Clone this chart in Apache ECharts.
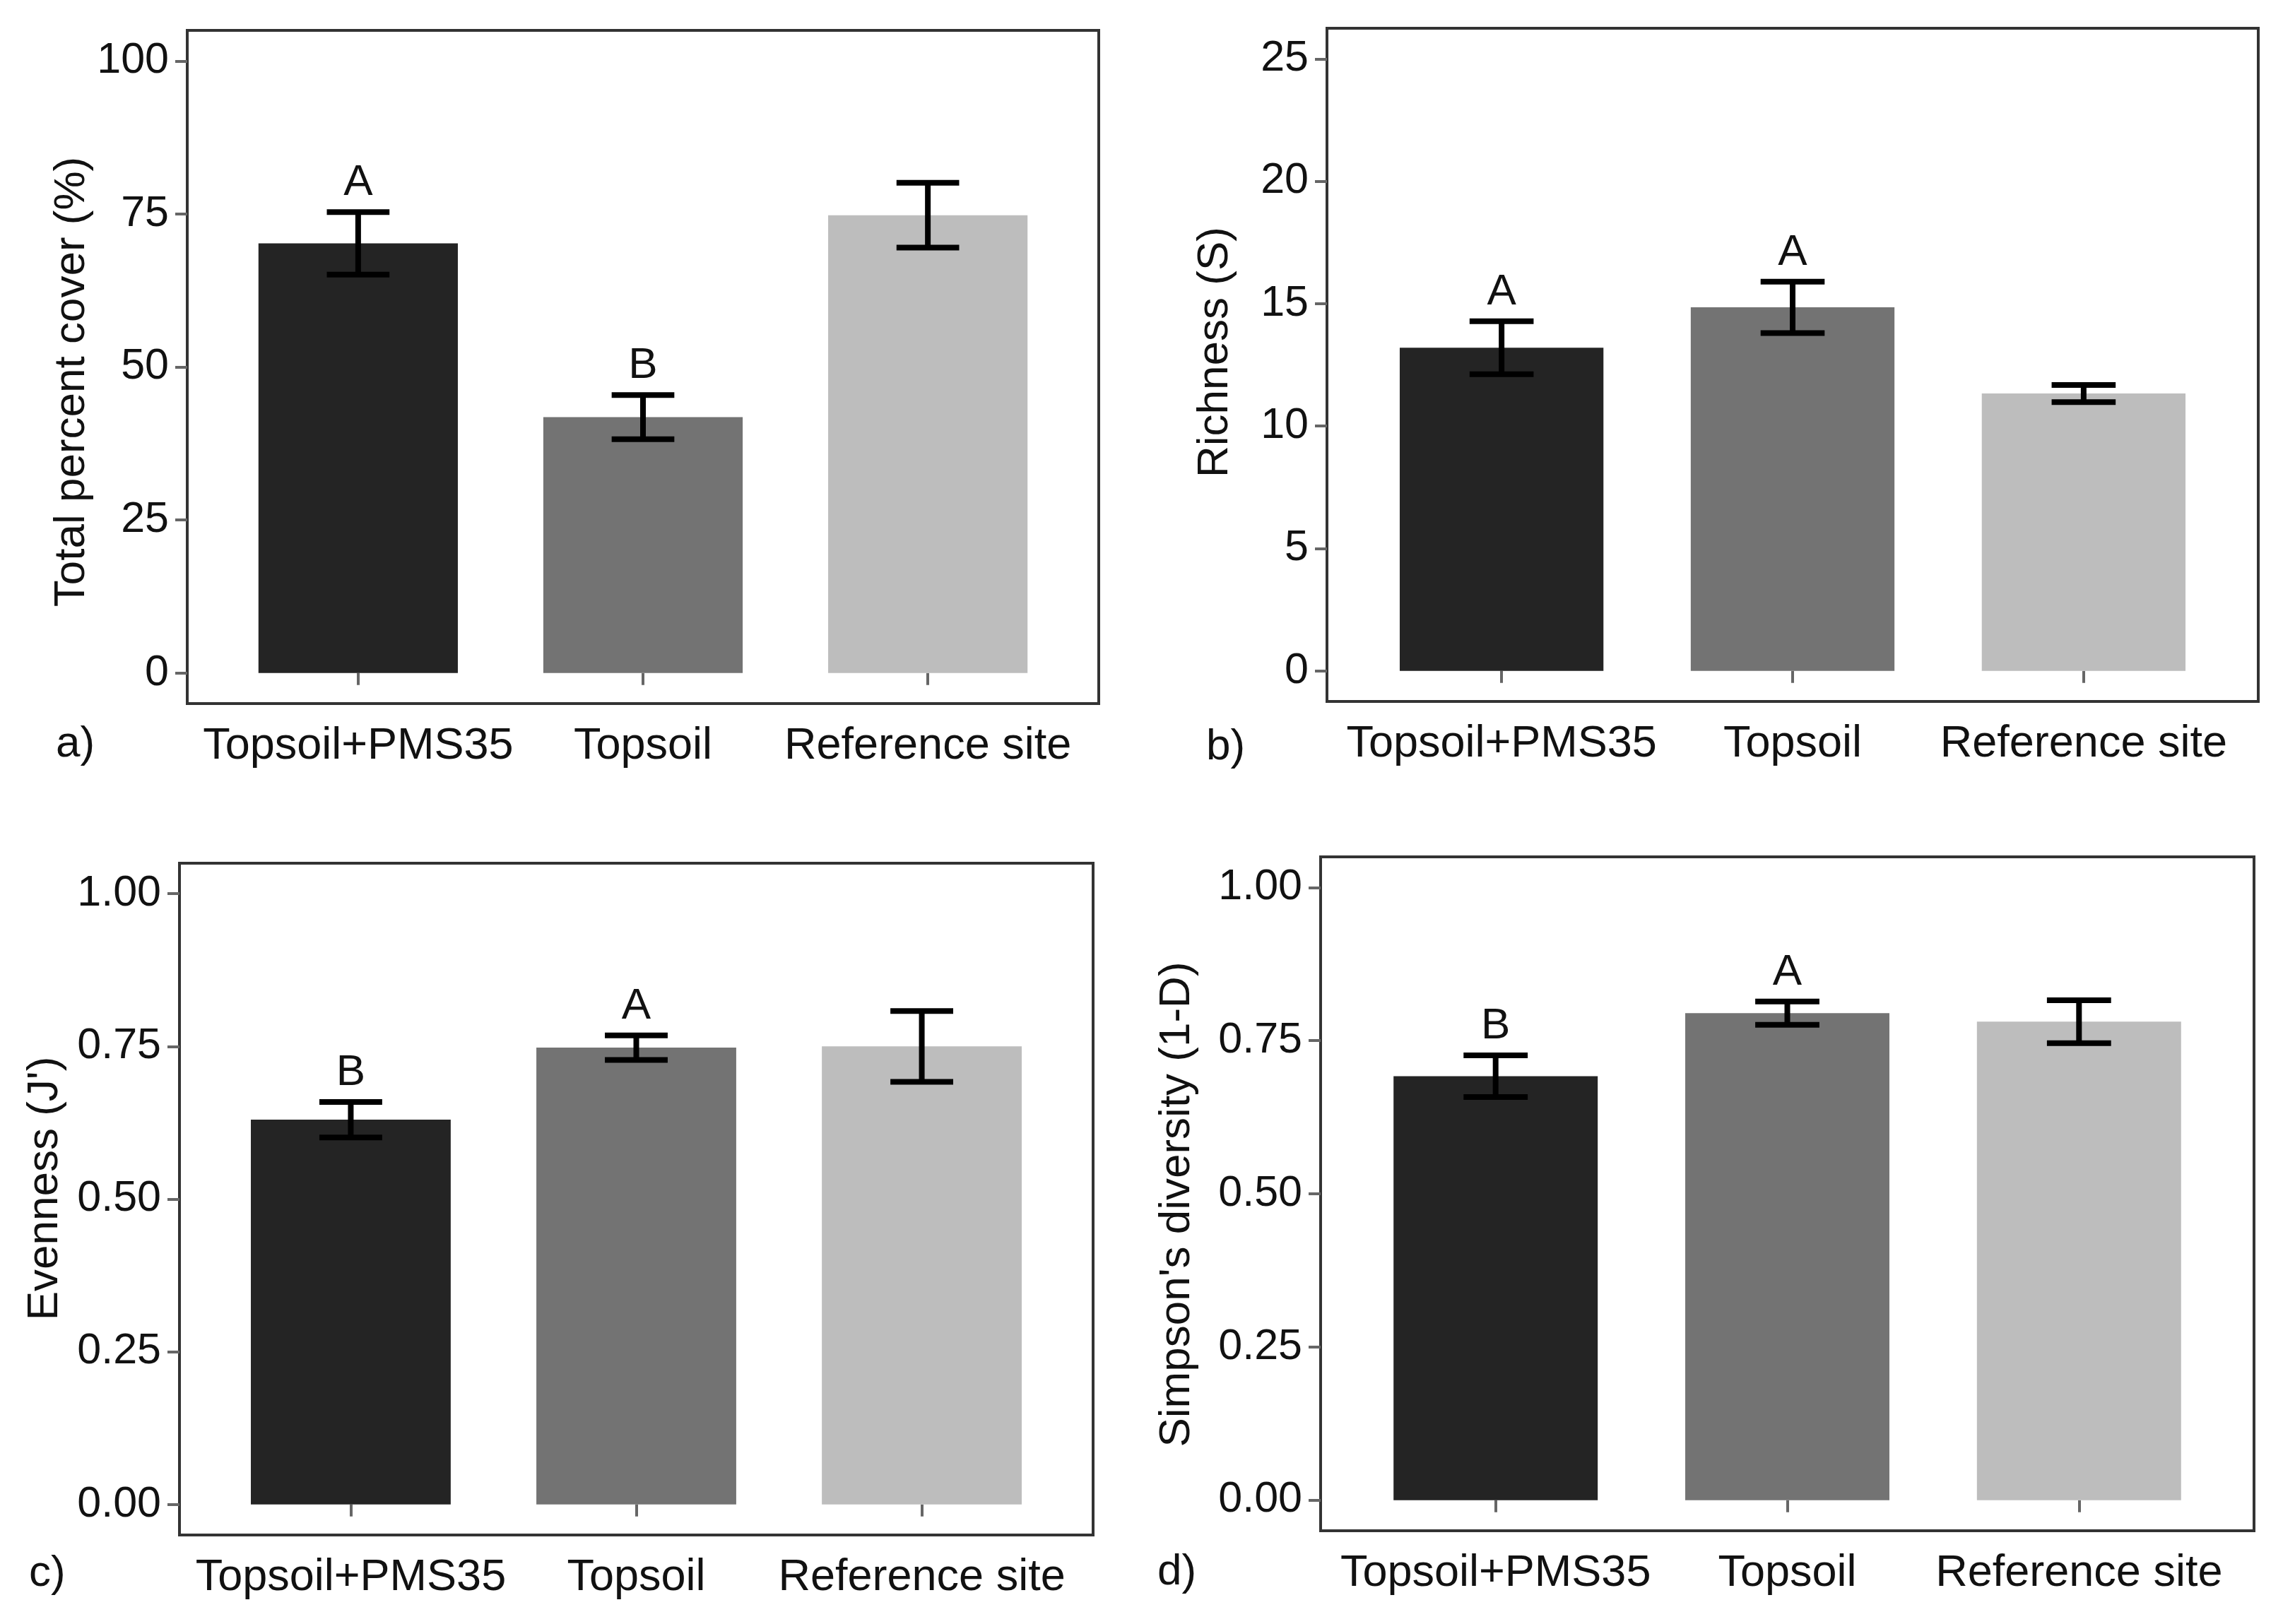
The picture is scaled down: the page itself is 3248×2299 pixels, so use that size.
<!DOCTYPE html>
<html>
<head>
<meta charset="utf-8">
<script src="https://cdn.jsdelivr.net/npm/echarts@6/dist/echarts.min.js"></script>
<style>
html,body{margin:0;padding:0;background:#fff;}
#chart{width:3248px;height:2299px;}
</style>
</head>
<body>
<div id="chart"></div>
<script>
// ---- data ----
const categories = ['Topsoil+PMS35', 'Topsoil', 'Reference site'];
const barColors = ['#242424', '#737373', '#bdbdbd'];

const coverMean = [70.2, 41.8, 74.8];
const coverSE = [5.1, 3.6, 5.3];
const coverLetters = ['A', 'B', ''];

const richMean = [13.2, 14.85, 11.33];
const richSE = [1.08, 1.05, 0.35];
const richLetters = ['A', 'A', ''];

const evenMean = [0.630, 0.748, 0.750];
const evenSE = [0.029, 0.020, 0.058];
const evenLetters = ['B', 'A', ''];

const simpMean = [0.692, 0.795, 0.781];
const simpSE = [0.034, 0.019, 0.035];
const simpLetters = ['B', 'A', ''];

const coverTicks = [0, 25, 50, 75, 100];
const richTicks = [0, 5, 10, 15, 20, 25];
const propTicks = [0, 0.25, 0.5, 0.75, 1];
const propTickLabels = ['0.00', '0.25', '0.50', '0.75', '1.00'];

const yTitles = ['Total percent cover (%)', 'Richness (S)', "Evenness (J')", "Simpson's diversity (1-D)"];
const panelTags = ['a)', 'b)', 'c)', 'd)'];

// ---- styling / layout ----
const FONT = "'Liberation Sans', Arial, sans-serif";
const grids = [
  {left: 265, top: 43, width: 1290, height: 953},
  {left: 1878, top: 40, width: 1318, height: 953},
  {left: 254, top: 1222, width: 1293, height: 951},
  {left: 1869, top: 1213, width: 1321, height: 954}
];
const yRanges = [[-5, 105], [-1.25, 26.25], [-0.05, 1.05], [-0.05, 1.05]];
const yTickSets = [coverTicks, richTicks, propTicks, propTicks];
const yFormatters = [
  v => String(v),
  v => String(v),
  v => propTickLabels[propTicks.indexOf(v)] ?? v.toFixed(2),
  v => propTickLabels[propTicks.indexOf(v)] ?? v.toFixed(2)
];
const nameGaps = [128, 127, 159, 172];
const namePads = [[0, 42, 0, 0], [0, 0, 0, 36], [0, 0, 0, 30], [0, 30, 0, 0]];
const tagPos = [[79, 1054], [1707, 1058], [41, 2228], [1638, 2226]];

const means = [coverMean, richMean, evenMean, simpMean];
const ses = [coverSE, richSE, evenSE, simpSE];
const letters = [coverLetters, richLetters, evenLetters, simpLetters];

function makeRender(lets) {
  return function (params, api) {
    const x = api.value(0), m = api.value(1), se = api.value(2);
    const i = params.dataIndex;
    const b0 = api.coord([x - 0.35, 0]);
    const b1 = api.coord([x + 0.35, m]);
    const t = api.coord([x, m + se]);
    const b = api.coord([x, m - se]);
    const capL = api.coord([x - 0.11, m + se])[0];
    const capR = api.coord([x + 0.11, m + se])[0];
    const ebStyle = {stroke: '#000', lineWidth: 8};
    const children = [
      {type: 'rect', shape: {x: b0[0], y: b1[1], width: b1[0] - b0[0], height: b0[1] - b1[1]},
       style: {fill: barColors[i]}},
      {type: 'line', shape: {x1: t[0], y1: t[1], x2: b[0], y2: b[1]}, style: ebStyle},
      {type: 'line', shape: {x1: capL, y1: t[1], x2: capR, y2: t[1]}, style: ebStyle},
      {type: 'line', shape: {x1: capL, y1: b[1], x2: capR, y2: b[1]}, style: ebStyle}
    ];
    if (lets[i]) {
      children.push({type: 'text', x: t[0], y: t[1] - 10,
        style: {text: lets[i], fontSize: 62, fontFamily: FONT, fill: '#111',
                align: 'center', verticalAlign: 'bottom'}});
    }
    return {type: 'group', children: children};
  };
}

const option = {
  backgroundColor: '#fff',
  animation: false,
  grid: grids.map(g => Object.assign({show: true, borderColor: '#333', borderWidth: 4,
                                      backgroundColor: 'transparent', containLabel: false}, g)),
  xAxis: grids.map((g, k) => ({
    type: 'value', gridIndex: k, min: 0.4, max: 3.6,
    axisLine: {show: false},
    splitLine: {show: false},
    axisTick: {show: true, customValues: [1, 2, 3], length: 17, lineStyle: {color: '#666', width: 4}},
    axisLabel: {show: true, customValues: [1, 2, 3], margin: 29,
      formatter: v => categories[Math.round(v) - 1],
      fontSize: 63, fontFamily: FONT, color: '#111'}
  })),
  yAxis: grids.map((g, k) => ({
    type: 'value', gridIndex: k, min: yRanges[k][0], max: yRanges[k][1],
    name: yTitles[k], nameLocation: 'middle', nameRotate: 90, nameGap: nameGaps[k],
    nameTextStyle: {fontSize: 62, fontFamily: FONT, color: '#111', padding: namePads[k]},
    axisLine: {show: false},
    splitLine: {show: false},
    axisTick: {show: true, customValues: yTickSets[k], length: 17, lineStyle: {color: '#666', width: 4}},
    axisLabel: {show: true, customValues: yTickSets[k], margin: 26,
      formatter: yFormatters[k], fontSize: 61, fontFamily: FONT, color: '#111'}
  })),
  series: grids.map((g, k) => ({
    type: 'custom', xAxisIndex: k, yAxisIndex: k,
    renderItem: makeRender(letters[k]),
    encode: {x: 0, y: [1]},
    data: categories.map((c, i) => [i + 1, means[k][i], ses[k][i]])
  })),
  graphic: panelTags.map((t, k) => ({
    type: 'text', x: tagPos[k][0], y: tagPos[k][1],
    style: {text: t, fontSize: 62, fontFamily: FONT, fill: '#111', align: 'left', verticalAlign: 'middle'}
  }))
};

const chart = echarts.init(document.getElementById('chart'), null, {renderer: 'canvas'});
chart.setOption(option);
</script>
</body>
</html>
